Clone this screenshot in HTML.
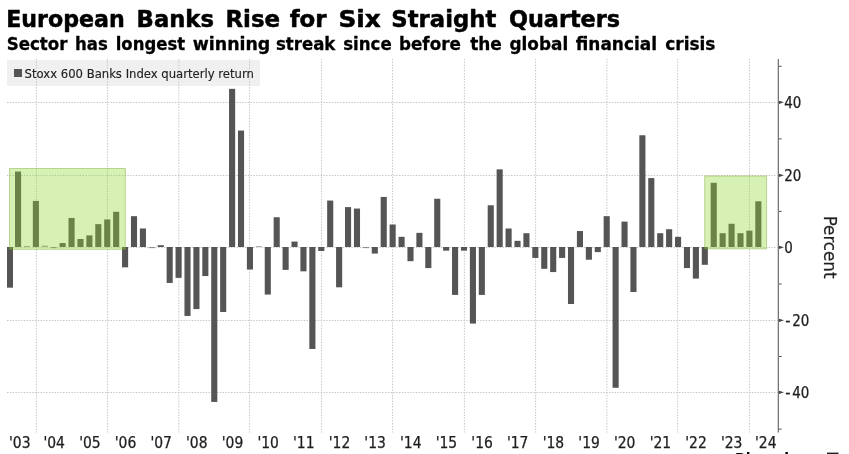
<!DOCTYPE html>
<html lang="en"><head><meta charset="utf-8"><title>European Banks Rise for Six Straight Quarters</title>
<style>
html,body{margin:0;padding:0;background:#fff;}
body{width:849px;height:454px;overflow:hidden;position:relative;}
svg{position:absolute;left:0;top:0;display:block;}
text{font-family:'DejaVu Sans Condensed','DejaVu Sans','Liberation Sans',sans-serif;fill:#1e1e1e;}
.b{font-family:'DejaVu Sans','Liberation Sans',sans-serif;font-weight:bold;fill:#000;stroke:#000;stroke-width:0.5;stroke-linejoin:round;}
.g{stroke:#c6c6c6;stroke-width:1;stroke-dasharray:1.4 1.4;fill:none;}
.gv{stroke:#c4c4c4;}
.bar{fill:#555;}
</style></head><body>
<svg width="849" height="454" viewBox="0 0 849 454">

<text class="b" y="27.25" font-size="23.4"><tspan x="6.20" textLength="118.60" lengthAdjust="spacingAndGlyphs">European</tspan> <tspan x="136.58" textLength="77.40" lengthAdjust="spacingAndGlyphs">Banks</tspan> <tspan x="225.40" textLength="54.66" lengthAdjust="spacingAndGlyphs">Rise</tspan> <tspan x="289.70" textLength="36.90" lengthAdjust="spacingAndGlyphs">for</tspan> <tspan x="338.50" textLength="42.30" lengthAdjust="spacingAndGlyphs">Six</tspan> <tspan x="391.30" textLength="105.00" lengthAdjust="spacingAndGlyphs">Straight</tspan> <tspan x="508.88" textLength="111.22" lengthAdjust="spacingAndGlyphs">Quarters</tspan></text>
<text class="b" y="50" font-size="17.2" style="stroke-width:0.3"><tspan x="6.70" textLength="60.80" lengthAdjust="spacingAndGlyphs">Sector</tspan> <tspan x="75.00" textLength="32.78" lengthAdjust="spacingAndGlyphs">has</tspan> <tspan x="115.70" textLength="69.38" lengthAdjust="spacingAndGlyphs">longest</tspan> <tspan x="192.78" textLength="77.52" lengthAdjust="spacingAndGlyphs">winning</tspan> <tspan x="275.96" textLength="59.38" lengthAdjust="spacingAndGlyphs">streak</tspan> <tspan x="343.20" textLength="48.56" lengthAdjust="spacingAndGlyphs">since</tspan> <tspan x="399.00" textLength="61.80" lengthAdjust="spacingAndGlyphs">before</tspan> <tspan x="470.14" textLength="31.64" lengthAdjust="spacingAndGlyphs">the</tspan> <tspan x="509.50" textLength="58.70" lengthAdjust="spacingAndGlyphs">global</tspan> <tspan x="575.80" textLength="81.20" lengthAdjust="spacingAndGlyphs">financial</tspan> <tspan x="665.26" textLength="50.18" lengthAdjust="spacingAndGlyphs">crisis</tspan></text>
<rect x="7" y="60" width="253" height="26" fill="#f0f0f0"/>
<line class="g" x1="7" x2="778" y1="102.5" y2="102.5"/>
<line class="g" x1="7" x2="778" y1="175.5" y2="175.5"/>
<line class="g" x1="7" x2="778" y1="247.5" y2="247.5"/>
<line class="g" x1="7" x2="778" y1="320.5" y2="320.5"/>
<line class="g" x1="7" x2="778" y1="392.5" y2="392.5"/>
<line class="g gv" x1="36.40" x2="36.40" y1="59" y2="432.5"/>
<line class="g gv" x1="107.40" x2="107.40" y1="59" y2="432.5"/>
<line class="g gv" x1="178.85" x2="178.85" y1="59" y2="432.5"/>
<line class="g gv" x1="249.60" x2="249.60" y1="59" y2="432.5"/>
<line class="g gv" x1="321.60" x2="321.60" y1="59" y2="432.5"/>
<line class="g gv" x1="392.60" x2="392.60" y1="59" y2="432.5"/>
<line class="g gv" x1="464.40" x2="464.40" y1="59" y2="432.5"/>
<line class="g gv" x1="535.60" x2="535.60" y1="59" y2="432.5"/>
<line class="g gv" x1="606.90" x2="606.90" y1="59" y2="432.5"/>
<line class="g gv" x1="677.70" x2="677.70" y1="59" y2="432.5"/>
<line class="g gv" x1="749.40" x2="749.40" y1="59" y2="432.5"/>
<rect x="14" y="69" width="8" height="8" fill="#555"/>
<text x="24.6" y="77.6" font-size="11.8" textLength="229.3" lengthAdjust="spacingAndGlyphs" style="font-family:'DejaVu Sans','Liberation Sans',sans-serif;fill:#222;stroke:#222;stroke-width:0.15">Stoxx 600 Banks Index quarterly return</text>
<rect class="bar" x="7.00" y="247.0" width="6.0" height="40.67"/>
<rect class="bar" x="15.00" y="171.55" width="6.1" height="75.45"/>
<rect class="bar" x="23.92" y="245.91" width="6.1" height="1.09" opacity="0.5"/>
<rect class="bar" x="32.84" y="200.93" width="6.1" height="46.07"/>
<rect class="bar" x="41.76" y="245.55" width="6.1" height="1.45" opacity="0.5"/>
<rect class="bar" x="50.67" y="247.0" width="6.1" height="1.13" opacity="0.6"/>
<rect class="bar" x="59.59" y="243.01" width="6.1" height="3.99"/>
<rect class="bar" x="68.51" y="217.98" width="6.1" height="29.02"/>
<rect class="bar" x="77.43" y="239.02" width="6.1" height="7.98"/>
<rect class="bar" x="86.35" y="235.39" width="6.1" height="11.61"/>
<rect class="bar" x="95.27" y="224.15" width="6.1" height="22.85"/>
<rect class="bar" x="104.19" y="219.43" width="6.1" height="27.57"/>
<rect class="bar" x="113.11" y="211.81" width="6.1" height="35.19"/>
<rect class="bar" x="122.03" y="247.0" width="6.1" height="20.35"/>
<rect class="bar" x="130.95" y="216.17" width="6.1" height="30.83"/>
<rect class="bar" x="139.87" y="228.50" width="6.1" height="18.50"/>
<rect class="bar" x="148.78" y="247.0" width="6.1" height="1.13" opacity="0.6"/>
<rect class="bar" x="157.70" y="245.19" width="6.1" height="1.81"/>
<rect class="bar" x="166.62" y="247.0" width="6.1" height="35.95"/>
<rect class="bar" x="175.54" y="247.0" width="6.1" height="30.87"/>
<rect class="bar" x="184.46" y="247.0" width="6.1" height="68.96"/>
<rect class="bar" x="193.38" y="247.0" width="6.1" height="62.07"/>
<rect class="bar" x="202.30" y="247.0" width="6.1" height="29.06"/>
<rect class="bar" x="211.22" y="247.0" width="6.1" height="154.93"/>
<rect class="bar" x="220.14" y="247.0" width="6.1" height="64.97"/>
<rect class="bar" x="229.06" y="88.84" width="6.1" height="158.16"/>
<rect class="bar" x="237.97" y="130.56" width="6.1" height="116.44"/>
<rect class="bar" x="246.89" y="247.0" width="6.1" height="22.53"/>
<rect class="bar" x="255.81" y="246.10" width="6.1" height="0.90" opacity="0.5"/>
<rect class="bar" x="264.73" y="247.0" width="6.1" height="47.56"/>
<rect class="bar" x="273.65" y="217.25" width="6.1" height="29.75"/>
<rect class="bar" x="282.57" y="247.0" width="6.1" height="22.89"/>
<rect class="bar" x="291.49" y="241.56" width="6.1" height="5.44"/>
<rect class="bar" x="300.41" y="247.0" width="6.1" height="24.34"/>
<rect class="bar" x="309.33" y="247.0" width="6.1" height="101.97"/>
<rect class="bar" x="318.25" y="247.0" width="6.1" height="4.03"/>
<rect class="bar" x="327.16" y="200.57" width="6.1" height="46.43"/>
<rect class="bar" x="336.08" y="247.0" width="6.1" height="40.30"/>
<rect class="bar" x="345.00" y="207.10" width="6.1" height="39.90"/>
<rect class="bar" x="353.92" y="208.55" width="6.1" height="38.45"/>
<rect class="bar" x="362.84" y="247.0" width="6.1" height="1.13" opacity="0.6"/>
<rect class="bar" x="371.76" y="247.0" width="6.1" height="6.57"/>
<rect class="bar" x="380.68" y="196.94" width="6.1" height="50.06"/>
<rect class="bar" x="389.60" y="224.51" width="6.1" height="22.49"/>
<rect class="bar" x="398.52" y="236.84" width="6.1" height="10.16"/>
<rect class="bar" x="407.44" y="247.0" width="6.1" height="14.18"/>
<rect class="bar" x="416.35" y="232.85" width="6.1" height="14.15"/>
<rect class="bar" x="425.27" y="247.0" width="6.1" height="21.08"/>
<rect class="bar" x="434.19" y="198.75" width="6.1" height="48.25"/>
<rect class="bar" x="443.11" y="247.0" width="6.1" height="3.66"/>
<rect class="bar" x="452.03" y="247.0" width="6.1" height="47.92"/>
<rect class="bar" x="460.95" y="247.0" width="6.1" height="3.66"/>
<rect class="bar" x="469.87" y="247.0" width="6.1" height="76.58"/>
<rect class="bar" x="478.79" y="247.0" width="6.1" height="47.92"/>
<rect class="bar" x="487.71" y="205.28" width="6.1" height="41.72"/>
<rect class="bar" x="496.62" y="169.37" width="6.1" height="77.63"/>
<rect class="bar" x="505.54" y="228.50" width="6.1" height="18.50"/>
<rect class="bar" x="514.46" y="240.83" width="6.1" height="6.17"/>
<rect class="bar" x="523.38" y="233.22" width="6.1" height="13.78"/>
<rect class="bar" x="532.30" y="247.0" width="6.1" height="10.92"/>
<rect class="bar" x="541.22" y="247.0" width="6.1" height="21.80"/>
<rect class="bar" x="550.14" y="247.0" width="6.1" height="25.07"/>
<rect class="bar" x="559.06" y="247.0" width="6.1" height="10.92"/>
<rect class="bar" x="567.98" y="247.0" width="6.1" height="56.99"/>
<rect class="bar" x="576.90" y="231.04" width="6.1" height="15.96"/>
<rect class="bar" x="585.82" y="247.0" width="6.1" height="12.73"/>
<rect class="bar" x="594.73" y="247.0" width="6.1" height="5.12"/>
<rect class="bar" x="603.65" y="216.17" width="6.1" height="30.83"/>
<rect class="bar" x="612.57" y="247.0" width="6.1" height="140.78"/>
<rect class="bar" x="621.49" y="221.61" width="6.1" height="25.39"/>
<rect class="bar" x="630.41" y="247.0" width="6.1" height="45.02"/>
<rect class="bar" x="639.33" y="135.27" width="6.1" height="111.73"/>
<rect class="bar" x="648.25" y="178.08" width="6.1" height="68.92"/>
<rect class="bar" x="657.17" y="233.22" width="6.1" height="13.78"/>
<rect class="bar" x="666.09" y="229.23" width="6.1" height="17.77"/>
<rect class="bar" x="675.01" y="236.84" width="6.1" height="10.16"/>
<rect class="bar" x="683.92" y="247.0" width="6.1" height="21.08"/>
<rect class="bar" x="692.84" y="247.0" width="6.1" height="31.60"/>
<rect class="bar" x="701.76" y="247.0" width="6.1" height="17.81"/>
<rect class="bar" x="710.68" y="182.79" width="6.1" height="64.21"/>
<rect class="bar" x="719.60" y="233.22" width="6.1" height="13.78"/>
<rect class="bar" x="728.52" y="223.78" width="6.1" height="23.22"/>
<rect class="bar" x="737.44" y="233.22" width="6.1" height="13.78"/>
<rect class="bar" x="746.36" y="230.68" width="6.1" height="16.32"/>
<rect class="bar" x="755.28" y="201.29" width="6.1" height="45.71"/>
<rect x="9.5" y="168.5" width="115.8" height="80.8" fill="rgb(144,214,47)" fill-opacity="0.36" stroke="rgb(120,170,50)" stroke-opacity="0.45" stroke-width="1"/>
<rect x="704.7" y="176" width="61.9" height="72.8" fill="rgb(144,214,47)" fill-opacity="0.36" stroke="rgb(120,170,50)" stroke-opacity="0.45" stroke-width="1"/>
<rect x="777.7" y="59" width="1.3" height="373.5" fill="#777"/>
<rect x="779" y="65.8" width="2.6" height="1" fill="#555"/>
<rect x="779" y="138.4" width="2.6" height="1" fill="#555"/>
<rect x="779" y="210.9" width="2.6" height="1" fill="#555"/>
<rect x="779" y="283.5" width="2.6" height="1" fill="#555"/>
<rect x="779" y="356.0" width="2.6" height="1" fill="#555"/>
<rect x="779" y="428.6" width="2.6" height="1" fill="#555"/>
<path d="M779 100.7 L784 102.3 L779 103.9 Z" fill="#444"/>
<text x="784.2" y="107.55" font-size="15" style="stroke:#1e1e1e;stroke-width:0.25" textLength="17.1" lengthAdjust="spacingAndGlyphs">40</text>
<path d="M779 173.7 L784 175.3 L779 176.9 Z" fill="#444"/>
<text x="784.2" y="180.55" font-size="15" style="stroke:#1e1e1e;stroke-width:0.25" textLength="17.1" lengthAdjust="spacingAndGlyphs">20</text>
<path d="M779 245.7 L784 247.3 L779 248.9 Z" fill="#444"/>
<text x="784.2" y="252.55" font-size="15" style="stroke:#1e1e1e;stroke-width:0.25" textLength="8.6" lengthAdjust="spacingAndGlyphs">0</text>
<path d="M779 318.7 L784 320.3 L779 321.9 Z" fill="#444"/>
<text y="325.55" font-size="15" style="stroke:#1e1e1e;stroke-width:0.25"><tspan x="785.3" textLength="5.3" lengthAdjust="spacingAndGlyphs">-</tspan><tspan x="792.3" textLength="17.1" lengthAdjust="spacingAndGlyphs">20</tspan></text>
<path d="M779 390.7 L784 392.3 L779 393.9 Z" fill="#444"/>
<text y="397.55" font-size="15" style="stroke:#1e1e1e;stroke-width:0.25"><tspan x="785.3" textLength="5.3" lengthAdjust="spacingAndGlyphs">-</tspan><tspan x="792.3" textLength="17.1" lengthAdjust="spacingAndGlyphs">40</tspan></text>
<text x="19.8" y="448" font-size="15.3" text-anchor="middle" style="stroke:#1e1e1e;stroke-width:0.25" textLength="21.5" lengthAdjust="spacingAndGlyphs">&#39;03</text>
<text x="54.2" y="448" font-size="15.3" text-anchor="middle" style="stroke:#1e1e1e;stroke-width:0.25" textLength="21.5" lengthAdjust="spacingAndGlyphs">&#39;04</text>
<text x="89.9" y="448" font-size="15.3" text-anchor="middle" style="stroke:#1e1e1e;stroke-width:0.25" textLength="21.5" lengthAdjust="spacingAndGlyphs">&#39;05</text>
<text x="125.5" y="448" font-size="15.3" text-anchor="middle" style="stroke:#1e1e1e;stroke-width:0.25" textLength="21.5" lengthAdjust="spacingAndGlyphs">&#39;06</text>
<text x="161.2" y="448" font-size="15.3" text-anchor="middle" style="stroke:#1e1e1e;stroke-width:0.25" textLength="21.5" lengthAdjust="spacingAndGlyphs">&#39;07</text>
<text x="196.8" y="448" font-size="15.3" text-anchor="middle" style="stroke:#1e1e1e;stroke-width:0.25" textLength="21.5" lengthAdjust="spacingAndGlyphs">&#39;08</text>
<text x="232.5" y="448" font-size="15.3" text-anchor="middle" style="stroke:#1e1e1e;stroke-width:0.25" textLength="21.5" lengthAdjust="spacingAndGlyphs">&#39;09</text>
<text x="268.2" y="448" font-size="15.3" text-anchor="middle" style="stroke:#1e1e1e;stroke-width:0.25" textLength="21.5" lengthAdjust="spacingAndGlyphs">&#39;10</text>
<text x="303.8" y="448" font-size="15.3" text-anchor="middle" style="stroke:#1e1e1e;stroke-width:0.25" textLength="21.5" lengthAdjust="spacingAndGlyphs">&#39;11</text>
<text x="339.5" y="448" font-size="15.3" text-anchor="middle" style="stroke:#1e1e1e;stroke-width:0.25" textLength="21.5" lengthAdjust="spacingAndGlyphs">&#39;12</text>
<text x="375.1" y="448" font-size="15.3" text-anchor="middle" style="stroke:#1e1e1e;stroke-width:0.25" textLength="21.5" lengthAdjust="spacingAndGlyphs">&#39;13</text>
<text x="410.8" y="448" font-size="15.3" text-anchor="middle" style="stroke:#1e1e1e;stroke-width:0.25" textLength="21.5" lengthAdjust="spacingAndGlyphs">&#39;14</text>
<text x="446.4" y="448" font-size="15.3" text-anchor="middle" style="stroke:#1e1e1e;stroke-width:0.25" textLength="21.5" lengthAdjust="spacingAndGlyphs">&#39;15</text>
<text x="482.1" y="448" font-size="15.3" text-anchor="middle" style="stroke:#1e1e1e;stroke-width:0.25" textLength="21.5" lengthAdjust="spacingAndGlyphs">&#39;16</text>
<text x="517.7" y="448" font-size="15.3" text-anchor="middle" style="stroke:#1e1e1e;stroke-width:0.25" textLength="21.5" lengthAdjust="spacingAndGlyphs">&#39;17</text>
<text x="553.4" y="448" font-size="15.3" text-anchor="middle" style="stroke:#1e1e1e;stroke-width:0.25" textLength="21.5" lengthAdjust="spacingAndGlyphs">&#39;18</text>
<text x="589.1" y="448" font-size="15.3" text-anchor="middle" style="stroke:#1e1e1e;stroke-width:0.25" textLength="21.5" lengthAdjust="spacingAndGlyphs">&#39;19</text>
<text x="624.7" y="448" font-size="15.3" text-anchor="middle" style="stroke:#1e1e1e;stroke-width:0.25" textLength="21.5" lengthAdjust="spacingAndGlyphs">&#39;20</text>
<text x="660.4" y="448" font-size="15.3" text-anchor="middle" style="stroke:#1e1e1e;stroke-width:0.25" textLength="21.5" lengthAdjust="spacingAndGlyphs">&#39;21</text>
<text x="696.0" y="448" font-size="15.3" text-anchor="middle" style="stroke:#1e1e1e;stroke-width:0.25" textLength="21.5" lengthAdjust="spacingAndGlyphs">&#39;22</text>
<text x="731.7" y="448" font-size="15.3" text-anchor="middle" style="stroke:#1e1e1e;stroke-width:0.25" textLength="21.5" lengthAdjust="spacingAndGlyphs">&#39;23</text>
<text x="765.8" y="448" font-size="15.3" text-anchor="middle" style="stroke:#1e1e1e;stroke-width:0.25" textLength="21.5" lengthAdjust="spacingAndGlyphs">&#39;24</text>
<text transform="translate(824.2,215.7) rotate(90)" font-size="17.6" style="stroke:#1e1e1e;stroke-width:0.2" textLength="62.8" lengthAdjust="spacingAndGlyphs">Percent</text>
<text class="b" x="735" y="463.1" font-size="14" style="stroke:none">Bloomberg</text>
<rect x="827" y="452.6" width="11.5" height="6" fill="#222"/>
</svg></body></html>
